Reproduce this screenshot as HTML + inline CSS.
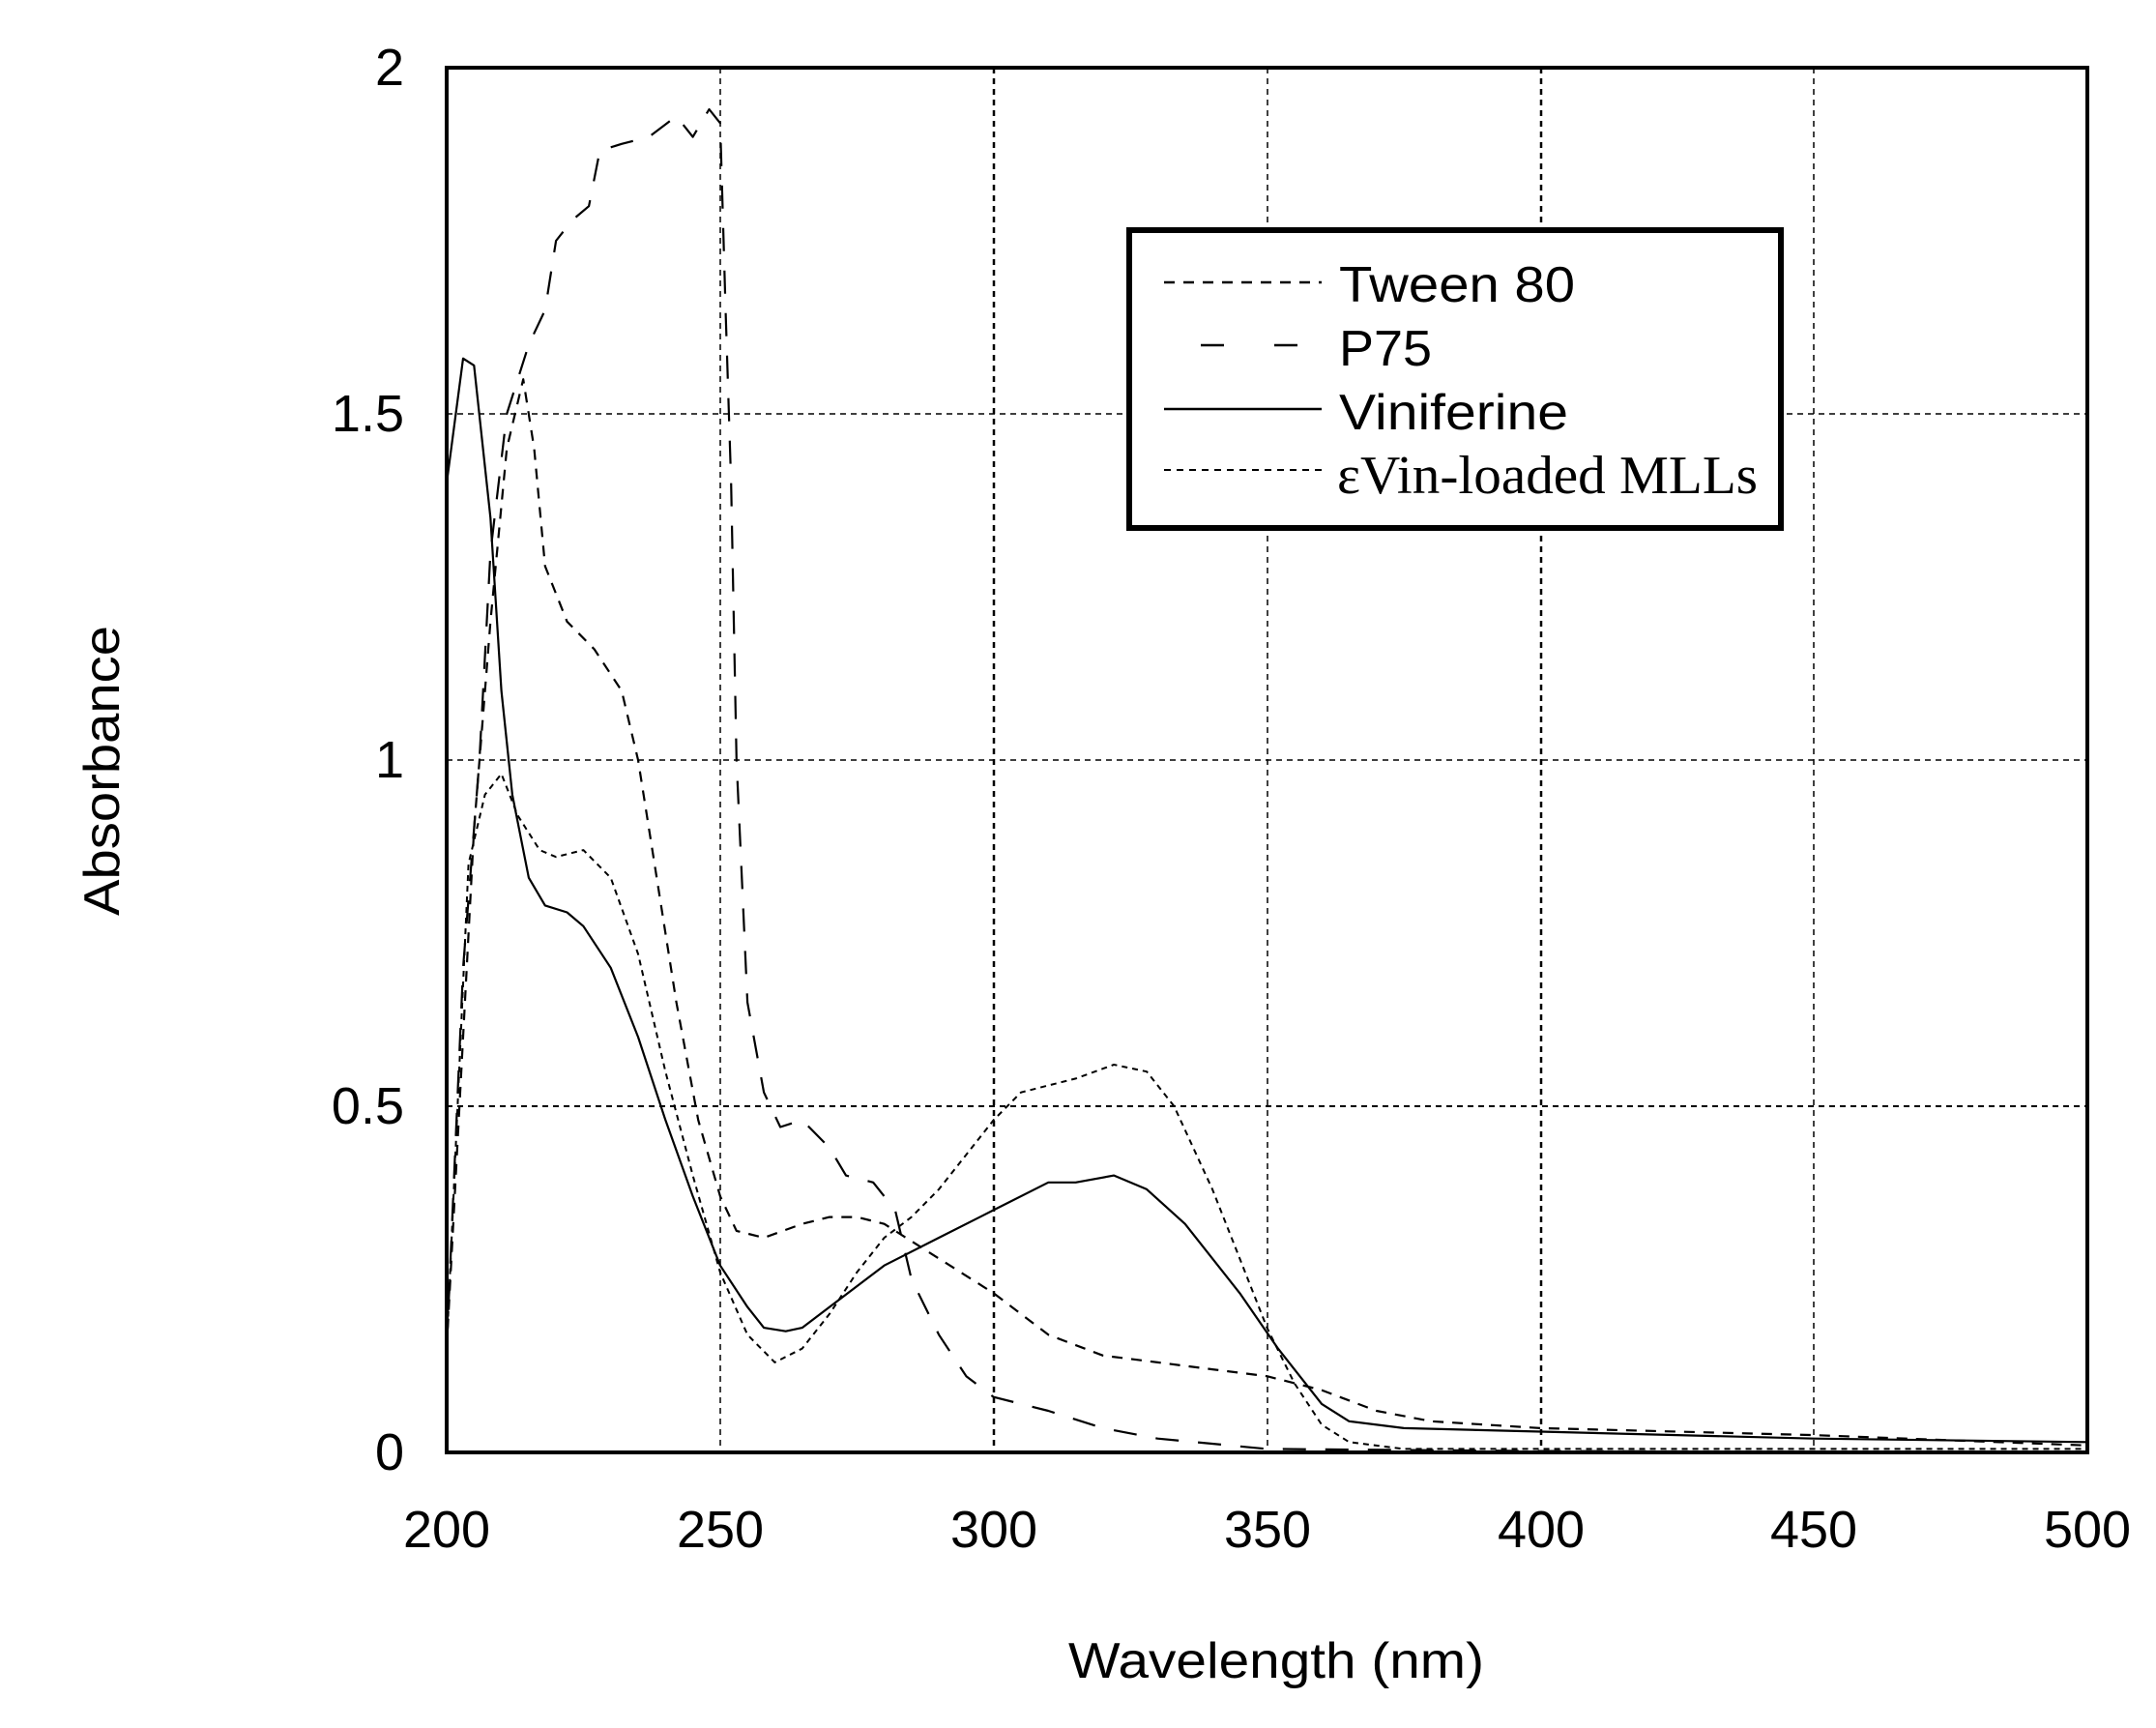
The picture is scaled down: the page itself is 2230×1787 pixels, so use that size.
<!DOCTYPE html>
<html><head><meta charset="utf-8"><style>
html,body{margin:0;padding:0;background:#fff;}
svg{display:block;}
text{font-family:"Liberation Sans",sans-serif;fill:#000;}
</style></head><body>
<svg id="s" width="2230" height="1787" viewBox="0 0 2230 1787" xmlns="http://www.w3.org/2000/svg">
<g stroke="#000" stroke-width="1.5" stroke-dasharray="6,5" fill="none">
<line x1="745" y1="70" x2="745" y2="1502"/>
<line x1="1028" y1="70" x2="1028" y2="1502" stroke-width="2.5"/>
<line x1="1311" y1="70" x2="1311" y2="1502"/>
<line x1="1594" y1="70" x2="1594" y2="1502" stroke-width="2.5"/>
<line x1="1876" y1="70" x2="1876" y2="1502"/>
<line x1="462" y1="1144" x2="2159" y2="1144" stroke-width="2"/>
<line x1="462" y1="786" x2="2159" y2="786"/>
<line x1="462" y1="428" x2="2159" y2="428"/>
</g>
<g id="curves" fill="none" stroke="#000"></g>
<rect x="462" y="70" width="1697" height="1432" fill="none" stroke="#000" stroke-width="4"/>
<rect x="1168" y="238" width="674" height="308" fill="#fff" stroke="#000" stroke-width="6"/>
<g stroke="#000" stroke-width="2.5">
<line x1="1204" y1="292" x2="1367" y2="292" stroke-dasharray="11,9"/>
<line x1="1242" y1="357" x2="1367" y2="357" stroke-dasharray="24,52"/>
<line x1="1204" y1="423" x2="1367" y2="423"/>
<line x1="1204" y1="486" x2="1367" y2="486" stroke-dasharray="7,6" stroke-width="2"/>
</g>
<text x="1385" y="312" font-size="52" textLength="244" lengthAdjust="spacingAndGlyphs">Tween 80</text>
<text x="1385" y="378" font-size="52" textLength="96" lengthAdjust="spacingAndGlyphs">P75</text>
<text x="1385" y="444" font-size="52" textLength="237" lengthAdjust="spacingAndGlyphs">Viniferine</text>
<text x="1383" y="510" font-size="56" style="font-family:'Liberation Serif',serif" textLength="435" lengthAdjust="spacingAndGlyphs">εVin-loaded MLLs</text>
<g font-size="54" text-anchor="middle">
<text x="462" y="1600">200</text><text x="745" y="1600">250</text><text x="1028" y="1600">300</text>
<text x="1311" y="1600">350</text><text x="1594" y="1600">400</text><text x="1876" y="1600">450</text>
<text x="2159" y="1600">500</text>
</g>
<g font-size="54" text-anchor="end">
<text x="418" y="1520">0</text><text x="418" y="1162">0.5</text><text x="418" y="804">1</text>
<text x="418" y="446">1.5</text><text x="418" y="88">2</text>
</g>
<text x="1105" y="1735" font-size="52" textLength="430" lengthAdjust="spacingAndGlyphs">Wavelength (nm)</text>
<text transform="translate(123,797) rotate(-90)" font-size="52" text-anchor="middle" textLength="300" lengthAdjust="spacingAndGlyphs">Absorbance</text>
</svg>
<script>
var X=function(w){return 462+(w-200)*5.657},Y=function(a){return 1502-a*716};
var S={
vin:{d:[200,1.40,203,1.58,205,1.57,208,1.35,210,1.10,212,0.95,215,0.83,218,0.79,222,0.78,225,0.76,230,0.70,235,0.60,240,0.48,245,0.37,250,0.27,255,0.21,258,0.18,262,0.175,265,0.18,270,0.21,280,0.27,290,0.31,300,0.35,310,0.39,315,0.39,322,0.40,328,0.38,335,0.33,345,0.23,352,0.15,360,0.07,365,0.045,375,0.035,400,0.03,450,0.02,500,0.015],da:"",w:2.2},
tw:{d:[200,0.15,203,0.6,205,0.9,208,1.2,211,1.45,214,1.55,216,1.45,218,1.28,222,1.2,227,1.16,232,1.1,235,1.0,238,0.85,242,0.65,246,0.48,250,0.37,253,0.32,258,0.31,265,0.33,270,0.34,275,0.34,280,0.33,290,0.28,300,0.23,310,0.17,320,0.14,330,0.13,340,0.12,350,0.11,360,0.09,370,0.06,380,0.045,400,0.035,450,0.025,500,0.01],da:"11,9",w:2.2},
p75:{d:[200,0.15,203,0.7,206,1.0,208,1.3,211,1.5,215,1.6,218,1.65,220,1.75,223,1.78,226,1.8,228,1.88,232,1.89,237,1.90,242,1.93,245,1.90,248,1.94,250,1.92,251,1.65,252,1.4,253,1.0,255,0.65,258,0.52,261,0.47,265,0.48,270,0.44,273,0.40,278,0.39,282,0.35,285,0.25,290,0.17,295,0.11,300,0.08,310,0.06,320,0.035,330,0.02,350,0.005,400,0.002,500,0.0],da:"24,20",w:2.2},
mll:{d:[200,0.15,204,0.85,207,0.95,210,0.98,213,0.92,217,0.87,220,0.86,225,0.87,230,0.83,235,0.72,240,0.55,245,0.40,250,0.26,255,0.17,260,0.13,265,0.15,270,0.2,275,0.26,280,0.31,285,0.34,290,0.38,295,0.43,300,0.48,305,0.52,310,0.53,315,0.54,322,0.56,328,0.55,333,0.50,340,0.38,345,0.28,350,0.18,355,0.10,360,0.04,365,0.015,375,0.005,500,0.005],da:"6,5",w:2}};
var g=document.getElementById('curves');
for(var k in S){var s=S[k],p=[];for(var i=0;i<s.d.length;i+=2)p.push(X(s.d[i]).toFixed(1)+','+Y(s.d[i+1]).toFixed(1));
var e=document.createElementNS('http://www.w3.org/2000/svg','polyline');e.setAttribute('points',p.join(' '));
e.setAttribute('stroke-width',s.w);if(s.da)e.setAttribute('stroke-dasharray',s.da);e.setAttribute('stroke-linejoin','round');g.appendChild(e);}
</script>
</body></html>
